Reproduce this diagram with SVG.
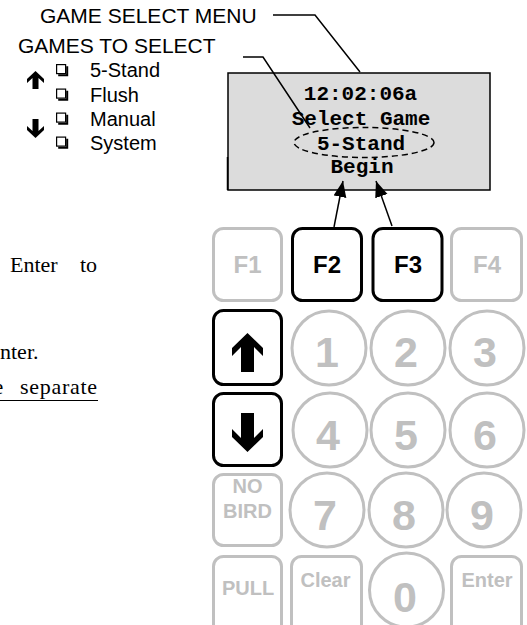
<svg xmlns="http://www.w3.org/2000/svg" xmlns:xlink="http://www.w3.org/1999/xlink" width="527" height="625" viewBox="0 0 527 625">
<style>
.lbl{font-family:"Liberation Sans",Arial,sans-serif;font-size:21px;fill:#000}
.item{font-family:"Liberation Sans",Arial,sans-serif;font-size:20px;fill:#000}
.body{font-family:"Liberation Serif","Times New Roman",serif;font-size:22px;fill:#000}
.lcd{font-family:"Liberation Mono","Courier New",monospace;font-size:21px;font-weight:bold;fill:#000;text-anchor:middle}
.kon{fill:#fff;stroke:#000;stroke-width:3}
.koff{fill:#fff;stroke:#c0c0c0;stroke-width:3}
.tk{font-family:"Liberation Sans",Arial,sans-serif;font-weight:bold;text-anchor:middle}
.ton{fill:#000}
.toff{fill:#c0c0c0}
.fk{font-size:24px}
.dk{font-size:43px}
.sk{font-size:20px}
.lead{fill:none;stroke:#000;stroke-width:1.5}
</style>
<defs>
<marker id="ah" markerUnits="userSpaceOnUse" markerWidth="18" markerHeight="14" refX="16" refY="6.5" orient="auto">
<path d="M0,0 L16,6.5 L0,13 Z" fill="#000"/>
</marker>
<g id="cb">
<rect x="0.6" y="0.6" width="9" height="9" fill="#fff" stroke="#000" stroke-width="1.2"/>
<path d="M10.2,2.2 H12.2 V12.2 H2.2 V10.2 H10.2 Z" fill="#000"/>
</g>
</defs>

<g id="titles">
<text class="lbl" x="40" y="23">GAME SELECT MENU</text>
<text class="lbl" x="18" y="53">GAMES TO SELECT</text>
</g>

<g id="game-list">
<polygon points="35.5,71 44,79 44,83 38.5,78 38.5,89 32.5,89 32.5,78 27,83 27,79" fill="#000"/>
<polygon points="35.5,138 44,130 44,126 38.5,131 38.5,119 32.5,119 32.5,131 27,126 27,130" fill="#000"/>
<use xlink:href="#cb" x="56" y="64"/>
<use xlink:href="#cb" x="56" y="88.5"/>
<use xlink:href="#cb" x="56" y="112.5"/>
<use xlink:href="#cb" x="56" y="136.5"/>
<text class="item" x="90" y="77">5-Stand</text>
<text class="item" x="90" y="101.5">Flush</text>
<text class="item" x="90" y="126">Manual</text>
<text class="item" x="90" y="150">System</text>
</g>

<g id="body-text">
<text class="body" x="10" y="272">Enter</text>
<text class="body" x="80" y="272">to</text>
<text class="body" x="0" y="359">nter.</text>
<text class="body" x="-6.5" y="394">e <tspan x="20" textLength="77" lengthAdjust="spacing">separate</tspan></text>
<line x1="0" y1="400.5" x2="98" y2="400.5" stroke="#000" stroke-width="1.2"/>
</g>

<g id="lcd">
<rect x="228" y="73" width="262" height="117" fill="#dcdcdc" stroke="#000" stroke-width="1.5"/>
<line x1="227.5" y1="157" x2="227.5" y2="190" stroke="#000" stroke-width="1.5"/>
<text class="lcd" x="360.5" y="100">12:02:06a</text>
<text class="lcd" x="361" y="125">Select Game</text>
<text class="lcd" x="361" y="150">5-Stand</text>
<text class="lcd" x="362" y="173">Begin</text>
<ellipse cx="364" cy="142.5" rx="70" ry="15" fill="none" stroke="#000" stroke-width="1.5" stroke-dasharray="6,4"/>
</g>

<g id="connectors">
<polyline class="lead" points="273,15 315,15 360,72"/>
<polyline class="lead" points="243,57 263,57 310,128"/>
<line class="lead" x1="334" y1="227" x2="343" y2="181" marker-end="url(#ah)"/>
<line class="lead" x1="392" y1="226" x2="376" y2="181" marker-end="url(#ah)"/>
</g>

<g id="key-F1"><rect class="koff" x="213.5" y="228.5" width="68" height="72" rx="10"/><text class="tk toff fk" x="247.5" y="273">F1</text></g>
<g id="key-F2"><rect class="kon" x="292.5" y="228.5" width="69" height="72" rx="10"/><text class="tk ton fk" x="327" y="273">F2</text></g>
<g id="key-F3"><rect class="kon" x="373" y="228.5" width="69" height="72" rx="10"/><text class="tk ton fk" x="408" y="273">F3</text></g>
<g id="key-F4"><rect class="koff" x="451.5" y="228.5" width="70" height="72" rx="10"/><text class="tk toff fk" x="487" y="273">F4</text></g>

<g id="key-up"><rect class="kon" x="213.5" y="310.5" width="68" height="74" rx="10"/>
<polygon points="247.5,333 263,348 263,356 254,347 254,372 241,372 241,347 232,356 232,348" fill="#000"/></g>
<g id="key-1"><circle class="koff" cx="329" cy="348" r="37"/><text class="tk toff dk" x="327" y="367">1</text></g>
<g id="key-2"><circle class="koff" cx="408" cy="348" r="37"/><text class="tk toff dk" x="406" y="367">2</text></g>
<g id="key-3"><circle class="koff" cx="487" cy="348" r="37"/><text class="tk toff dk" x="485" y="367">3</text></g>

<g id="key-down"><rect class="kon" x="213.5" y="393.5" width="68" height="72" rx="10"/>
<polygon points="247.5,452 263,437 263,429 254,438 254,413 241,413 241,438 232,429 232,437" fill="#000"/></g>
<g id="key-4"><circle class="koff" cx="330" cy="430" r="37"/><text class="tk toff dk" x="328" y="450">4</text></g>
<g id="key-5"><circle class="koff" cx="408" cy="430" r="37"/><text class="tk toff dk" x="406" y="450">5</text></g>
<g id="key-6"><circle class="koff" cx="487" cy="430" r="37"/><text class="tk toff dk" x="485" y="450">6</text></g>

<g id="key-nobird"><rect class="koff" x="213.5" y="474.5" width="68" height="71" rx="10"/>
<text class="tk toff sk" x="247.5" y="493">NO</text><text class="tk toff sk" x="247.5" y="518">BIRD</text></g>
<g id="key-7"><circle class="koff" cx="327" cy="510" r="37"/><text class="tk toff dk" x="325" y="530">7</text></g>
<g id="key-8"><circle class="koff" cx="406" cy="510" r="37"/><text class="tk toff dk" x="404" y="530">8</text></g>
<g id="key-9"><circle class="koff" cx="484" cy="510" r="37"/><text class="tk toff dk" x="482" y="530">9</text></g>

<g id="key-pull"><rect class="koff" x="213.5" y="556.5" width="68" height="80" rx="10"/><text class="tk toff sk" x="248" y="595">PULL</text></g>
<g id="key-clear"><rect class="koff" x="291.5" y="556.5" width="70" height="80" rx="10"/><text class="tk toff sk" x="325.5" y="587">Clear</text></g>
<g id="key-0"><circle class="koff" cx="406.5" cy="590" r="37"/><text class="tk toff dk" x="405" y="612">0</text></g>
<g id="key-enter"><rect class="koff" x="451.5" y="556.5" width="70" height="80" rx="10"/><text class="tk toff sk" x="487" y="587">Enter</text></g>
</svg>
